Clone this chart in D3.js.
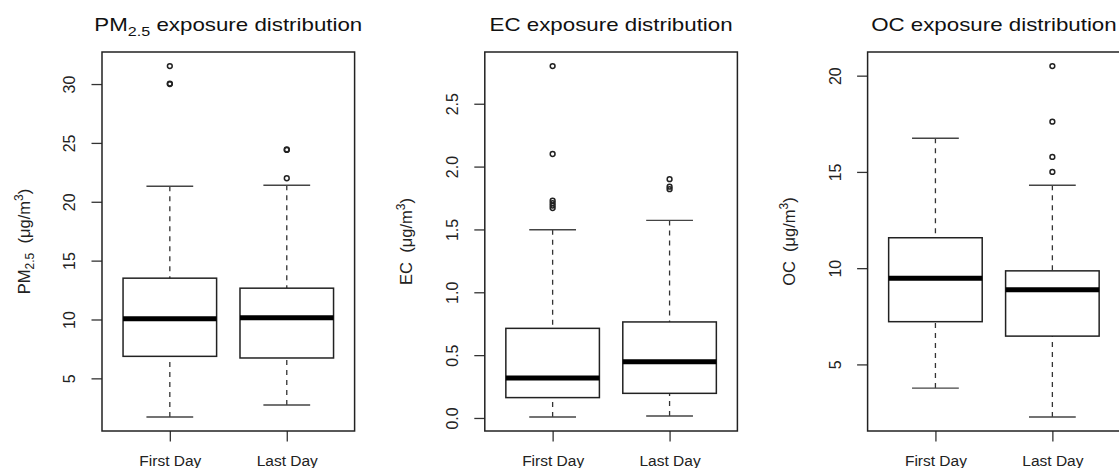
<!DOCTYPE html>
<html>
<head>
<meta charset="utf-8">
<title>Exposure distributions</title>
<script src="https://cdn.jsdelivr.net/npm/d3@7"></script>
<style>
  body { margin: 0; background: #fff; }
  svg { display: block; font-family: "Liberation Sans", Arial, sans-serif; }
</style>
</head>
<body>
<svg id="chart" width="1119" height="468"></svg>
<script>
// categories
var groups = ["First Day", "Last Day"];

// five-number summaries per group: [lower whisker, Q1, median, Q3, upper whisker]
var pmStats = [[1.72, 6.87, 10.06, 13.51, 21.32], [2.74, 6.73, 10.15, 12.66, 21.40]];
var pmOutliers = [[30.0, 30.04, 31.53], [22.0, 24.4, 24.45]];
var pmTicks = [5, 10, 15, 20, 25, 30];

var ecStats = [[0.008, 0.162, 0.318, 0.713, 1.498], [0.016, 0.196, 0.448, 0.764, 1.572]];
var ecOutliers = [[1.67, 1.69, 1.71, 1.73, 2.10, 2.80], [1.82, 1.84, 1.90]];
var ecTicks = [0, 0.5, 1.0, 1.5, 2.0, 2.5];

var ocStats = [[3.77, 7.22, 9.48, 11.58, 16.75], [2.27, 6.47, 8.88, 9.86, 14.31]];
var ocOutliers = [[], [15.0, 15.78, 17.61, 20.5]];
var ocTicks = [5, 10, 15, 20];

var svg = d3.select("#chart");

//layout
var left0 = 102, step = 382.8, plotW = 252.6, plotTop = 52, plotBottom = 431;

var panels = [
  {name: "PM", sub: "2.5", stats: pmStats, out: pmOutliers, ticks: pmTicks, fmt: d3.format("d")},
  {name: "EC", sub: null, stats: ecStats, out: ecOutliers, ticks: ecTicks, fmt: d3.format(".1f")},
  {name: "OC", sub: null, stats: ocStats, out: ocOutliers, ticks: ocTicks, fmt: d3.format("d")}
];

panels.forEach(function(p, i) {
  var left = left0 + step * i;
  var g = svg.append("g");

  // R style ranges: data range + 4% each side
  var all = [];
  p.stats.forEach(function(s) { all.push(s[0], s[4]); });
  p.out.forEach(function(o) { all = all.concat(o); });
  var lo = d3.min(all), hi = d3.max(all), r = hi - lo;
  var y = d3.scaleLinear().domain([lo - 0.04 * r, hi + 0.04 * r]).range([plotBottom, plotTop]);
  var x = d3.scaleLinear().domain([0.42, groups.length + 0.58]).range([left, left + plotW]);

  // y axis
  var yAxis = g.append("g")
    .attr("transform", "translate(" + left + ",0)")
    .call(d3.axisLeft(y).tickValues(p.ticks).tickSize(10.5).tickFormat(p.fmt));
  yAxis.select(".domain").remove();
  yAxis.selectAll("line").attr("stroke", "#333").attr("stroke-width", 1.3);
  yAxis.selectAll("text")
    .attr("transform", "rotate(-90)")
    .attr("x", 0).attr("y", -27).attr("dy", 0)
    .attr("text-anchor", "middle")
    .attr("fill", "#222")
    .style("font-size", "16px");

  // x axis
  var xAxis = g.append("g")
    .attr("transform", "translate(0," + plotBottom + ")")
    .call(d3.axisBottom(x).tickValues(groups.map(function(d, k) { return k + 1; }))
      .tickSize(10.5).tickFormat(function(d) { return groups[d - 1]; }));
  xAxis.select(".domain").remove();
  xAxis.selectAll("line").attr("stroke", "#333").attr("stroke-width", 1.3);
  xAxis.selectAll("text")
    .attr("y", 34.5).attr("dy", 0)
    .attr("fill", "#222")
    .style("font-size", "15.5px");

  // boxes
  var box = g.selectAll(".bx").data(p.stats).enter().append("g").attr("class", "bx");

  // whiskers, dashed
  box.selectAll(".wh").data(function(s, k) { return [[k + 1, s[0], s[1]], [k + 1, s[4], s[3]]]; })
    .enter().append("line")
    .attr("x1", function(d) { return x(d[0]); })
    .attr("x2", function(d) { return x(d[0]); })
    .attr("y1", function(d) { return y(d[1]); })
    .attr("y2", function(d) { return y(d[2]); })
    .attr("stroke", "#333").attr("stroke-width", 1.3)
    .attr("stroke-dasharray", "5,5");

  // staples
  box.selectAll(".st").data(function(s, k) { return [[k + 1, s[0]], [k + 1, s[4]]]; })
    .enter().append("line")
    .attr("x1", function(d) { return x(d[0] - 0.2); })
    .attr("x2", function(d) { return x(d[0] + 0.2); })
    .attr("y1", function(d) { return y(d[1]); })
    .attr("y2", function(d) { return y(d[1]); })
    .attr("stroke", "#444").attr("stroke-width", 1.4);

  box.append("rect")
    .attr("x", function(s, k) { return x(k + 1 - 0.4); })
    .attr("width", function(s, k) { return x(k + 1 + 0.4) - x(k + 1 - 0.4); })
    .attr("y", function(s) { return y(s[3]); })
    .attr("height", function(s) { return y(s[1]) - y(s[3]); })
    .attr("fill", "#fff").attr("stroke", "#222").attr("stroke-width", 1.5);

  box.append("line")
    .attr("x1", function(s, k) { return x(k + 1 - 0.4); })
    .attr("x2", function(s, k) { return x(k + 1 + 0.4); })
    .attr("y1", function(s) { return y(s[2]); })
    .attr("y2", function(s) { return y(s[2]); })
    .attr("stroke", "#000").attr("stroke-width", 5);

  // outliers
  p.out.forEach(function(o, k) {
    g.selectAll(".o" + k).data(o).enter().append("circle")
      .attr("cx", x(k + 1))
      .attr("cy", function(d) { return y(d); })
      .attr("r", 2.4)
      .attr("fill", "none").attr("stroke", "#222").attr("stroke-width", 1.5);
  });

  // frame
  g.append("rect")
    .attr("x", left).attr("y", plotTop)
    .attr("width", plotW).attr("height", plotBottom - plotTop)
    .attr("fill", "none").attr("stroke", "#222").attr("stroke-width", 1.5);

  // title
  var title = g.append("text")
    .attr("transform", "translate(" + (left + plotW / 2) + ",31) scale(1.24,1)")
    .attr("text-anchor", "middle")
    .attr("fill", "#111")
    .style("font-size", "18px");
  title.append("tspan").text(p.name);
  if (p.sub) {
    title.append("tspan").attr("dy", 5).style("font-size", "13px").text(p.sub);
    title.append("tspan").attr("dy", -5).text(" exposure distribution");
  } else {
    title.append("tspan").text(" exposure distribution");
  }

  // y label
  var lab = g.append("text")
    .attr("transform", "translate(" + (left - 72.5) + "," + ((plotTop + plotBottom) / 2) + ") rotate(-90)")
    .attr("text-anchor", "middle")
    .attr("fill", "#222")
    .style("font-size", "16.5px");
  lab.append("tspan").text(p.name);
  if (p.sub) {
    lab.append("tspan").attr("dy", 4).style("font-size", "12px").text(p.sub);
    lab.append("tspan").attr("dy", -4).text("\u00a0\u00a0(\u03bcg/m");
  } else {
    lab.append("tspan").text("\u00a0\u00a0(\u03bcg/m");
  }
  lab.append("tspan").attr("dy", -7).style("font-size", "12px").text("3");
  lab.append("tspan").attr("dy", 7).text(")");
});
</script>
</body>
</html>
